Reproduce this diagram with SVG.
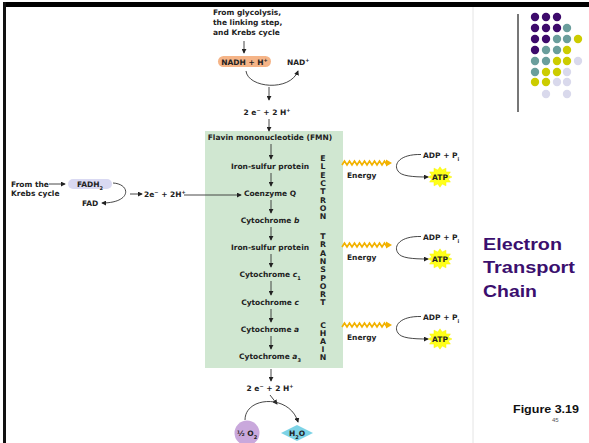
<svg xmlns="http://www.w3.org/2000/svg" width="589" height="443" viewBox="0 0 589 443">
<defs>
<style>
.t{font-family:"DejaVu Sans","Liberation Sans",sans-serif;font-weight:bold;font-size:7.5px;fill:#222}
.c{text-anchor:middle}
.v{font-family:"DejaVu Sans",sans-serif;font-weight:bold;font-size:7.8px;fill:#222;text-anchor:middle}
.ln{fill:none;stroke:#333;stroke-width:0.9}
.arr{marker-end:url(#ah)}
.zz{fill:none;stroke:#f2b200;stroke-width:1.7}
.title{font-family:"Liberation Sans",Arial,sans-serif;font-weight:bold;font-size:17px;fill:#3b0f6e}
</style>
<marker id="ah" viewBox="0 0 6 6" refX="5" refY="3" markerWidth="5" markerHeight="5" orient="auto" markerUnits="userSpaceOnUse">
<path d="M0,0 L6,3 L0,6 z" fill="#222"/>
</marker>
<g id="zig">
<path class="zz" d="M0,2 l2.5,-4 l2.5,4 l2.5,-4 l2.5,4 l2.5,-4 l2.5,4 l2.5,-4 l2.5,4 l2.5,-4 l2.5,4 l2.5,-4 l2.5,4 l2.5,-4 l2.5,4 l2.5,-4 l2.5,4 l2.5,-4 l2.5,4"/>
<polygon points="44,-3.5 50,0 44,3.5" fill="#f2b200"/>
</g>
<polygon id="star" transform="scale(1,0.85)" fill="#ffff1a" stroke="#f5f000" stroke-width="0.5" points="12,0 8.21,2.2 10.39,6 6.01,6.01 6,10.39 2.2,8.21 0,12 -2.2,8.21 -6,10.39 -6.01,6.01 -10.39,6 -8.21,2.2 -12,0 -8.21,-2.2 -10.39,-6 -6.01,-6.01 -6,-10.39 -2.2,-8.21 0,-12 2.2,-8.21 6,-10.39 6.01,-6.01 10.39,-6 8.21,-2.2"/>
</defs>
<rect width="589" height="443" fill="#fff"/>
<g id="frame">
<rect x="3" y="2" width="586" height="5" fill="#000"/>
<rect x="3" y="2" width="3" height="441" fill="#111"/>
<line x1="473" y1="7" x2="473" y2="443" stroke="#e4e4e4" stroke-width="1"/>
<line x1="518" y1="14" x2="518" y2="112" stroke="#777" stroke-width="2"/>
</g>
<g id="dots">
<g fill="#3d0a6b">
<circle cx="535" cy="17" r="4.2"/><circle cx="546" cy="17" r="4.2"/><circle cx="557" cy="17" r="4.2"/>
<circle cx="535" cy="28" r="4.2"/><circle cx="546" cy="28" r="4.2"/><circle cx="557" cy="28" r="4.2"/>
<circle cx="535" cy="39" r="4.2"/><circle cx="546" cy="39" r="4.2"/>
<circle cx="535" cy="50" r="4.2"/>
</g>
<g fill="#6a9e9c">
<circle cx="567" cy="28" r="4.2"/>
<circle cx="557" cy="39" r="4.2"/><circle cx="567" cy="39" r="4.2"/>
<circle cx="546" cy="50" r="4.2"/><circle cx="557" cy="50" r="4.2"/>
<circle cx="535" cy="61" r="4.2"/><circle cx="546" cy="61" r="4.2"/>
<circle cx="535" cy="72" r="4.2"/>
</g>
<g fill="#cccc00">
<circle cx="578" cy="39" r="4.2"/>
<circle cx="567" cy="50" r="4.2"/>
<circle cx="557" cy="61" r="4.2"/><circle cx="567" cy="61" r="4.2"/>
<circle cx="546" cy="72" r="4.2"/><circle cx="557" cy="72" r="4.2"/>
<circle cx="535" cy="82" r="4.2"/><circle cx="546" cy="82" r="4.2"/>
</g>
<g fill="#d9d9ec">
<circle cx="578" cy="61" r="4.2"/>
<circle cx="567" cy="72" r="4.2"/>
<circle cx="557" cy="82" r="4.2"/><circle cx="567" cy="82" r="4.2"/>
<circle cx="546" cy="94" r="4.2"/><circle cx="567" cy="94" r="4.2"/>
</g>
</g>
<g id="title">
<text class="title" x="483" y="250" textLength="79" lengthAdjust="spacingAndGlyphs">Electron</text>
<text class="title" x="483" y="273" textLength="92" lengthAdjust="spacingAndGlyphs">Transport</text>
<text class="title" x="483" y="297" textLength="54" lengthAdjust="spacingAndGlyphs">Chain</text>
<text x="513" y="413" font-family="Liberation Sans,Arial,sans-serif" font-weight="bold" font-size="11" fill="#111" textLength="66" lengthAdjust="spacingAndGlyphs">Figure 3.19</text>
<text x="552" y="422" font-family="Liberation Sans,Arial,sans-serif" font-size="6" fill="#555">45</text>
</g>
<g id="etc-box">
<rect x="205" y="131" width="138" height="237" fill="#d0e7d1"/>
</g>
<g id="fmn"><text class="t c" x="270" y="140">Flavin mononucleotide (FMN)</text></g>
<g id="fes1"><text class="t c" x="270" y="169">Iron-sulfur protein</text></g>
<g id="coq"><text class="t c" x="270" y="196">Coenzyme Q</text></g>
<g id="cytb"><text class="t c" x="270" y="223">Cytochrome <tspan font-style="italic">b</tspan></text></g>
<g id="fes2"><text class="t c" x="270" y="250">Iron-sulfur protein</text></g>
<g id="cytc1"><text class="t c" x="270" y="277">Cytochrome <tspan font-style="italic">c</tspan><tspan font-size="5" baseline-shift="sub">1</tspan></text></g>
<g id="cytc"><text class="t c" x="270" y="305">Cytochrome <tspan font-style="italic">c</tspan></text></g>
<g id="cyta"><text class="t c" x="270" y="332">Cytochrome <tspan font-style="italic">a</tspan></text></g>
<g id="cyta3"><text class="t c" x="270" y="359">Cytochrome <tspan font-style="italic">a</tspan><tspan font-size="5" baseline-shift="sub">3</tspan></text></g>
<g id="vertical-label">
<text class="v" x="323" y="161">E</text><text class="v" x="323" y="169.3">L</text><text class="v" x="323" y="177.6">E</text><text class="v" x="323" y="185.9">C</text><text class="v" x="323" y="194.2">T</text><text class="v" x="323" y="202.5">R</text><text class="v" x="323" y="210.8">O</text><text class="v" x="323" y="219.1">N</text>
<text class="v" x="323" y="239">T</text><text class="v" x="323" y="247.3">R</text><text class="v" x="323" y="255.6">A</text><text class="v" x="323" y="263.9">N</text><text class="v" x="323" y="272.2">S</text><text class="v" x="323" y="280.5">P</text><text class="v" x="323" y="288.8">O</text><text class="v" x="323" y="297.1">R</text><text class="v" x="323" y="305.4">T</text>
<text class="v" x="323" y="328">C</text><text class="v" x="323" y="335.9">H</text><text class="v" x="323" y="343.8">A</text><text class="v" x="323" y="351.7">I</text><text class="v" x="323" y="359.6">N</text>
</g>
<g id="source-top">
<text class="t" x="213" y="15">From glycolysis,</text>
<text class="t" x="213" y="25">the linking step,</text>
<text class="t" x="213" y="35">and Krebs cycle</text>
</g>
<g id="nadh">
<rect x="218" y="56" width="53" height="11" rx="5.5" fill="#f5b487"/>
<text class="t c" x="244.5" y="64.5">NADH + H<tspan font-size="5" baseline-shift="super">+</tspan></text>
</g>
<g id="nad"><text class="t" x="287" y="64.5">NAD<tspan font-size="5" baseline-shift="super">+</tspan></text></g>
<g id="e-top"><text class="t c" x="267" y="115">2 e<tspan font-size="5" baseline-shift="super">−</tspan> + 2 H<tspan font-size="5" baseline-shift="super">+</tspan></text></g>
<g id="source-left">
<text class="t" x="11" y="187">From the</text>
<text class="t" x="11" y="196">Krebs cycle</text>
</g>
<g id="fadh2">
<rect x="68" y="179" width="44" height="10" rx="5" fill="#d9d9f2"/>
<text class="t c" x="90" y="187">FADH<tspan font-size="5" baseline-shift="sub">2</tspan></text>
</g>
<g id="fad"><text class="t" x="82" y="206">FAD</text></g>
<g id="e-left"><text class="t" x="144" y="197">2e<tspan font-size="5" baseline-shift="super">−</tspan> + 2H<tspan font-size="5" baseline-shift="super">+</tspan></text></g>
<g id="e-bottom"><text class="t c" x="270" y="391">2 e<tspan font-size="5" baseline-shift="super">−</tspan> + 2 H<tspan font-size="5" baseline-shift="super">+</tspan></text></g>
<g id="o2">
<circle cx="247" cy="433" r="12.5" fill="#c9a8dc"/>
<text class="t c" x="247" y="436">½ O<tspan font-size="5" baseline-shift="sub">2</tspan></text>
</g>
<g id="h2o">
<polygon points="281,433 297,425 313,433 297,441" fill="#7dd3e6"/>
<text class="t c" x="297" y="436">H<tspan font-size="5" baseline-shift="sub">2</tspan>O</text>
</g>
<g id="energy1">
<use href="#zig" x="342" y="163"/>
<text class="t" x="347" y="178">Energy</text>
<text class="t" x="423" y="157.5">ADP + P<tspan font-size="5" baseline-shift="sub">i</tspan></text>
<use href="#star" transform="translate(440,177)"/>
<text class="t c" x="440" y="180">ATP</text>
</g>
<g id="energy2">
<use href="#zig" x="342" y="245"/>
<text class="t" x="347" y="260">Energy</text>
<text class="t" x="423" y="239.5">ADP + P<tspan font-size="5" baseline-shift="sub">i</tspan></text>
<use href="#star" transform="translate(440,259)"/>
<text class="t c" x="440" y="262">ATP</text>
</g>
<g id="energy3">
<use href="#zig" x="342" y="325"/>
<text class="t" x="347" y="340">Energy</text>
<text class="t" x="423" y="319.5">ADP + P<tspan font-size="5" baseline-shift="sub">i</tspan></text>
<use href="#star" transform="translate(440,339)"/>
<text class="t c" x="440" y="342">ATP</text>
</g>
<g id="connectors">
<path class="ln arr" d="M244,41 V53"/>
<path class="ln arr" d="M246,71 C248,88 290,92 298,71"/>
<path class="ln arr" d="M269,87 V100"/>
<path class="ln arr" d="M269,119 V131"/>
<path class="ln arr" d="M271,144 V159"/>
<path class="ln arr" d="M271,173 V186"/>
<path class="ln arr" d="M271,200 V213"/>
<path class="ln arr" d="M271,227 V240"/>
<path class="ln arr" d="M271,254 V267"/>
<path class="ln arr" d="M271,281 V295"/>
<path class="ln arr" d="M271,309 V322"/>
<path class="ln arr" d="M271,336 V349"/>
<path class="ln arr" d="M271,369 V381"/>
<path class="ln arr" d="M270,395 L277,404"/>
<path class="ln arr" d="M245,420 C245,396 290,394 298,422"/>
<path class="ln arr" d="M49,184 H65"/>
<path class="ln arr" d="M113,183 C131,184 132,203 102,203"/>
<path class="ln arr" d="M130,194 H142"/>
<path class="ln arr" d="M184,195 H241"/>
<path class="ln arr" d="M421,154.5 C400,154 393,164 398,171 C401,176 412,177 428,177"/>
<path class="ln arr" d="M421,236.5 C400,236 393,246 398,253 C401,258 412,259 428,259"/>
<path class="ln arr" d="M421,316.5 C400,316 393,326 398,333 C401,338 412,339 428,339"/>
</g>
</svg>
